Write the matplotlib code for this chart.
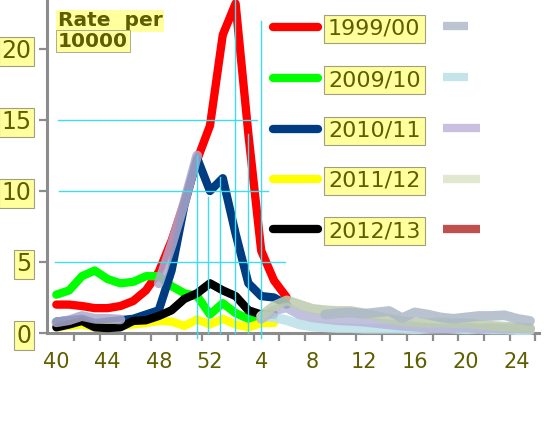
import matplotlib
matplotlib.use('Agg')
import matplotlib.pyplot as plt
from matplotlib.lines import Line2D
import numpy as np

# ---------------- data ----------------
weeks = list(range(40, 53)) + list(range(1, 26))
label_weeks = [40, 44, 48, 52, 4, 8, 12, 16, 20, 24]

series_names = ['1999/00', '2009/10', '2010/11', '2011/12', '2012/13']
s1999 = [2.0, 2.0, 1.9, 1.75, 1.75, 1.9, 2.25, 3.0, 4.3, 6.5, 9.2, 12.2, 14.6, 21.0, 23.2, 14.0, 5.8, 3.7, 2.5]
s2009 = [2.7, 3.0, 4.0, 4.4, 3.8, 3.5, 3.6, 4.0, 4.0, 3.3, 2.8, 2.6, 1.3, 2.1, 1.4, 1.0, 0.9, 0.8]
s2010 = [0.8, 0.9, 1.0, 0.7, 0.8, 0.9, 1.0, 1.3, 1.6, 4.4, 9.0, 12.3, 10.0, 10.9, 7.0, 3.5, 2.6, 2.5, 2.0]
s2011 = [0.4, 0.5, 0.6, 0.4, 0.4, 0.5, 0.6, 0.7, 0.85, 0.8, 0.5, 0.95, 0.6, 1.0, 0.6, 0.4, 0.7, 0.7]
s2012 = [0.4, 0.6, 0.85, 0.4, 0.35, 0.4, 0.85, 0.9, 1.2, 1.6, 2.4, 2.8, 3.5, 3.0, 2.6, 1.6, 1.3, 1.3]

# faded (background) seasons
faded_left = [0.75, 0.9, 1.2, 1.0, 1.0, 0.95, np.nan, np.nan, 3.5, 6.2, 9.2, 12.5]      # from week 40
faded_cyan = [1.2, 1.1, 0.9, 0.6, 0.45, 0.4, 0.35, 0.35, 0.3, 0.3, 0.3, 0.3, 0.25, 0.3,
              0.35, 0.3, 0.25, 0.3, 0.25, 0.25, 0.2, 0.2]                                 # from week 4
faded_lav = [1.0, 1.6, 1.8, 1.3, 1.1, 1.0, 0.9, 0.85, 0.8, 0.7, 0.6, 0.5, 0.45, 0.35,
             0.3, 0.35, 0.4, 0.3, 0.35, 0.3, 0.35, 0.3]                                   # from week 4
faded_green = [1.2, 1.9, 2.3, 2.0, 1.7, 1.6, 1.55, 1.55, 1.4, 1.2, 1.0, 0.85, 0.75, 0.7,
               0.75, 0.7, 0.7, 0.6, 0.5, 0.45, 0.4, 0.35]                                 # from week 4
faded_gray = [1.3, 1.4, 1.45, 1.35, 1.45, 1.55, 1.05, 1.45, 1.3, 1.1, 1.0, 1.1, 1.2,
              1.2, 1.25, 1.0, 0.85]                                                       # from week 9

colors = ['#FF0000', '#00FF00', '#003C82', '#FFFF00', '#000000']
olive = '#5E5E00'
pale_yellow = '#FFFF9E'
axis_gray = '#8C8C8C'
cyan = '#3EDDEE'

W, H = 555, 444
fig = plt.figure(figsize=(W / 100, H / 100), dpi=100)
ax = fig.add_axes([47 / W, 1 - 333 / H, (539 - 47) / W, 333 / H])
ax.set_xlim(-0.73, 37.7)
ax.set_ylim(0, 23.45)

def xs(start, n):
    return np.arange(start, start + n)

main = [s1999, s2009, s2010, s2011, s2012]
order = [1, 0, 2, 3, 4]
for k in order:
    vals = main[k]
    ax.plot(xs(0, len(vals)), vals, color=colors[k], lw=6, solid_capstyle='round',
            solid_joinstyle='round', zorder=3 + k * 0.1, clip_on=False)

fade_kw = dict(lw=7.0, solid_capstyle='round', solid_joinstyle='round', clip_on=False)
ax.plot(xs(16, len(faded_cyan)), faded_cyan, color='#C0E2E9', alpha=0.9, zorder=4.0, **fade_kw)
ax.plot(xs(16, len(faded_lav)), faded_lav, color='#B6B6D8', alpha=0.85, zorder=4.1, **fade_kw)
ax.plot(xs(16, len(faded_green)), faded_green, color='#BCCBAE', alpha=0.85, zorder=4.2, **fade_kw)
ax.plot(xs(21, len(faded_gray)), faded_gray, color='#ADB9C8', alpha=0.85, zorder=4.3, **fade_kw)
ax.plot(xs(0, len(faded_left)), faded_left, color='#ADA9CC', alpha=0.85, zorder=4.4, **fade_kw)

# thin cyan construction lines
hl = [(15, 0.13, 15.7), (10, 0.2, 16.5), (5, -0.1, 17.85)]
for y, x0, x1 in hl:
    ax.plot([x0, x1], [y, y], color=cyan, lw=1.0, zorder=6, clip_on=False)
vl = [(11.0, 12.5, -0.35), (11.85, 9.6, 0), (12.8, 11.0, 0), (13.95, 23.45, 0),
      (15.0, 14.0, 0), (16.0, 22.0, -0.35)]
for x, y0, y1 in vl:
    ax.plot([x, x], [y0, y1], color=cyan, lw=1.0, zorder=6, clip_on=False)

# axes styling
for s in ['top', 'right']:
    ax.spines[s].set_visible(False)
for s in ['left', 'bottom']:
    ax.spines[s].set_color(axis_gray)
    ax.spines[s].set_linewidth(2.2)
    ax.spines[s].set_zorder(2)

ax.set_yticks([0, 5, 10, 15, 20])
ax.set_yticklabels(['0', '5', '10', '15', '20'], fontsize=17, color=olive)
ax.tick_params(axis='y', length=6, width=1.6, color=axis_gray, pad=5)
for lab in ax.get_yticklabels():
    lab.set_bbox(dict(boxstyle='square,pad=0.1', fc=pale_yellow, ec='#A0A080', lw=0.8))

lab_pos = [weeks.index(w, 0 if w >= 40 else 13) for w in label_weeks]
ax.set_xticks(lab_pos)
ax.set_xticklabels([str(w) for w in label_weeks], fontsize=15, color=olive)
ax.tick_params(axis='x', which='major', length=0, pad=14)
ax.set_xticks(np.arange(1.4, 37.7, 2), minor=True)
ax.tick_params(axis='x', which='minor', length=6, width=1.6, color=axis_gray)

# title-like box
fig.text(58 / W, 1 - 21 / H, 'Rate  per', fontsize=14.5, fontweight='bold', color=olive,
         va='center', ha='left',
         bbox=dict(boxstyle='square,pad=0.08', fc=pale_yellow, ec='none'))
fig.text(58 / W, 1 - 41 / H, '10000', fontsize=14.5, fontweight='bold', color=olive,
         va='center', ha='left',
         bbox=dict(boxstyle='square,pad=0.08', fc=pale_yellow, ec='#A0A080', lw=0.6))

# legend
leg_y = [29, 80, 131, 181, 231]
for k in range(5):
    yy = 1 - (leg_y[k] - 2) / H
    fig.add_artist(Line2D([273 / W, 318 / W], [yy, yy], color=colors[k], lw=6,
                          solid_capstyle='round'))
    fig.text(328 / W, 1 - leg_y[k] / H, series_names[k], fontsize=16, color=olive,
             va='center', ha='left',
             bbox=dict(boxstyle='square,pad=0.2', fc=pale_yellow, ec='#A0A080', lw=0.8))

extra = [('#BCC4D0', (0, (3, 6, 100, 1))), ('#C4E4EA', (0, (3, 6, 6, 4, 100, 1))),
         ('#C8C0DC', (0, (7, 4, 6, 4, 100, 1))), ('#E0E8D0', '-'), ('#C0504D', '-')]
extra_y = [26, 77, 128, 179, 229]
for (c, ls), yy in zip(extra, extra_y):
    fig.add_artist(Line2D([443 / W, 480 / W], [1 - yy / H, 1 - yy / H], color=c, lw=6,
                          linestyle=ls, solid_capstyle='butt', dash_capstyle='butt'))

fig.savefig('out.png', dpi=100)
